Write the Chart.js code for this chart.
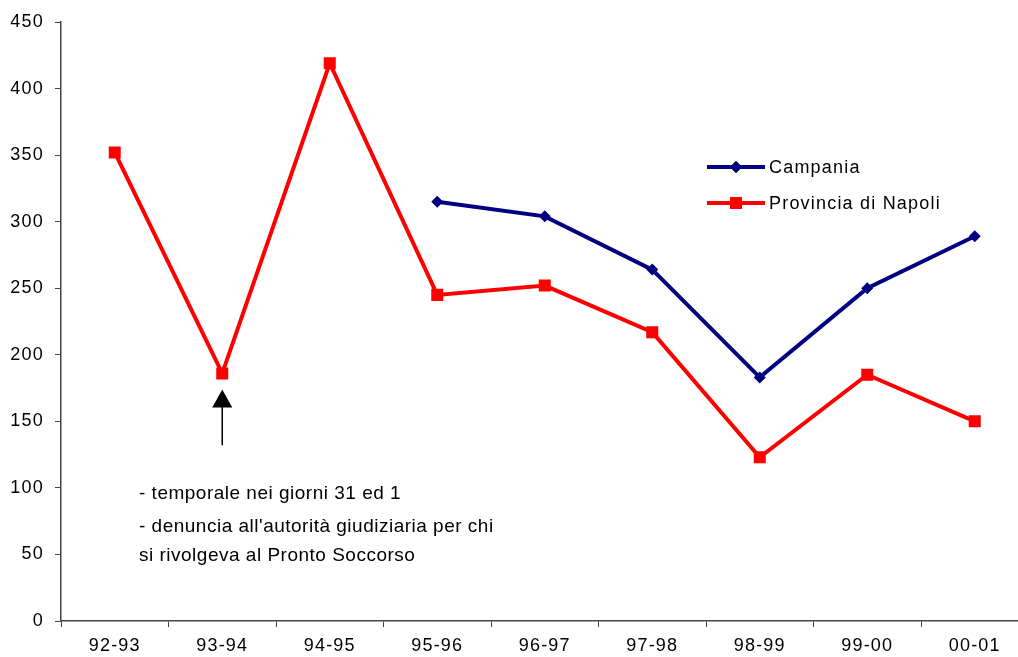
<!DOCTYPE html>
<html>
<head>
<meta charset="utf-8">
<script src="https://cdn.jsdelivr.net/npm/chart.js@4/dist/chart.umd.min.js"></script>
<style>
  html, body { margin: 0; padding: 0; background: #fff; overflow: hidden; }
  #wrap { width: 1037px; height: 657px; }
</style>
</head>
<body>
<div id="wrap"><canvas id="myChart" width="1037" height="657"></canvas></div>
<script>
// dati
const categories = ["92-93", "93-94", "94-95", "95-96", "96-97", "97-98", "98-99", "99-00", "00-01"];
const campania = [null, null, null, 315, 304, 264, 183, 250, 289];
const napoli = [352, 186, 419, 245, 252, 217, 123, 185, 150];
const yTicks = [0, 50, 100, 150, 200, 250, 300, 350, 400, 450];
const noteLines = ["- temporale nei giorni 31 ed 1", "- denuncia all'autorità giudiziaria per chi", "si rivolgeva al Pronto Soccorso"];

const FONT = "'Liberation Sans', Arial, sans-serif";
const AXIS = "#444";
const SPACING = "1.2px";

// spaziatura lettere come nell'originale
const spacing = {
  id: "spacing",
  beforeLayout(chart) { chart.ctx.letterSpacing = SPACING; },
  beforeDraw(chart) { chart.ctx.letterSpacing = SPACING; }
};

// legenda + freccia e note
const extras = {
  id: "extras",
  afterDraw(chart) {
    const ctx = chart.ctx;
    const x = chart.scales.x, y = chart.scales.y;
    ctx.save();
    ctx.letterSpacing = SPACING;

    // legenda
    chart.data.datasets.forEach(function (ds, i) {
      const ly = 167 + i * 36;
      ctx.strokeStyle = ds.borderColor;
      ctx.lineWidth = 4;
      ctx.beginPath();
      ctx.moveTo(707, ly);
      ctx.lineTo(765, ly);
      ctx.stroke();
      Chart.helpers.drawPoint(ctx, {
        pointStyle: ds.pointStyle, radius: ds.pointRadius, borderWidth: 0
      }, 736, ly);
      ctx.fillStyle = ds.borderColor;
      ctx.fill();
      ctx.fillStyle = "#000";
      ctx.font = "18px " + FONT;
      ctx.textBaseline = "middle";
      ctx.textAlign = "left";
      ctx.fillText(ds.label, 769, ly + 1);
    });

    // freccia sotto 93-94
    const ax = x.getPixelForValue(1);
    const tip = y.getPixelForValue(174);
    const base = y.getPixelForValue(132);
    ctx.strokeStyle = "#000";
    ctx.lineWidth = 1.5;
    ctx.beginPath();
    ctx.moveTo(ax, base);
    ctx.lineTo(ax, tip + 14);
    ctx.stroke();
    ctx.fillStyle = "#000";
    ctx.beginPath();
    ctx.moveTo(ax, tip);
    ctx.lineTo(ax - 10, tip + 18);
    ctx.lineTo(ax + 10, tip + 18);
    ctx.closePath();
    ctx.fill();

    // note
    ctx.letterSpacing = "0.5px";
    ctx.font = "19px " + FONT;
    ctx.textAlign = "left";
    ctx.textBaseline = "middle";
    ctx.fillText(noteLines[0], 139, 494);
    ctx.fillText(noteLines[1], 139, 527);
    ctx.fillText(noteLines[2], 139, 556);
    ctx.restore();
  }
};

const ctx = document.getElementById("myChart").getContext("2d");
const myChart = new Chart(ctx, {
  type: "line",
  data: {
    labels: categories,
    datasets: [{
      label: "Campania",
      data: campania,
      borderColor: "#000080",
      backgroundColor: "#000080",
      borderWidth: 4,
      pointStyle: "rectRot",
      pointRadius: 6,
      pointBorderWidth: 0,
      tension: 0
    }, {
      label: "Provincia di Napoli",
      data: napoli,
      borderColor: "#ff0000",
      backgroundColor: "#ff0000",
      borderWidth: 4,
      pointStyle: "rect",
      pointRadius: 8.5,
      pointBorderWidth: 0,
      tension: 0
    }]
  },
  options: {
    responsive: false,
    animation: false,
    events: [],
    layout: { padding: { top: 22, right: 1, left: 0, bottom: 0 } },
    plugins: { legend: { display: false }, tooltip: { enabled: false } },
    scales: {
      x: {
        offset: true,
        grid: { offset: true, drawOnChartArea: false, tickLength: 6, color: AXIS, tickColor: AXIS },
        border: { color: AXIS, width: 1.5 },
        ticks: { color: "#000", font: { family: FONT, size: 18 }, padding: 8, maxRotation: 0 },
        afterFit(s) { s.height = 36; }
      },
      y: {
        min: 0,
        max: 450,
        afterBuildTicks(s) { s.ticks = yTicks.map(v => ({ value: v })); },
        grid: { drawOnChartArea: false, tickLength: 6, color: AXIS, tickColor: AXIS },
        border: { color: AXIS, width: 1.5 },
        ticks: { color: "#000", font: { family: FONT, size: 18 }, padding: 11 },
        afterFit(s) { s.width = 61; }
      }
    }
  },
  plugins: [spacing, extras]
});
</script>
</body>
</html>
